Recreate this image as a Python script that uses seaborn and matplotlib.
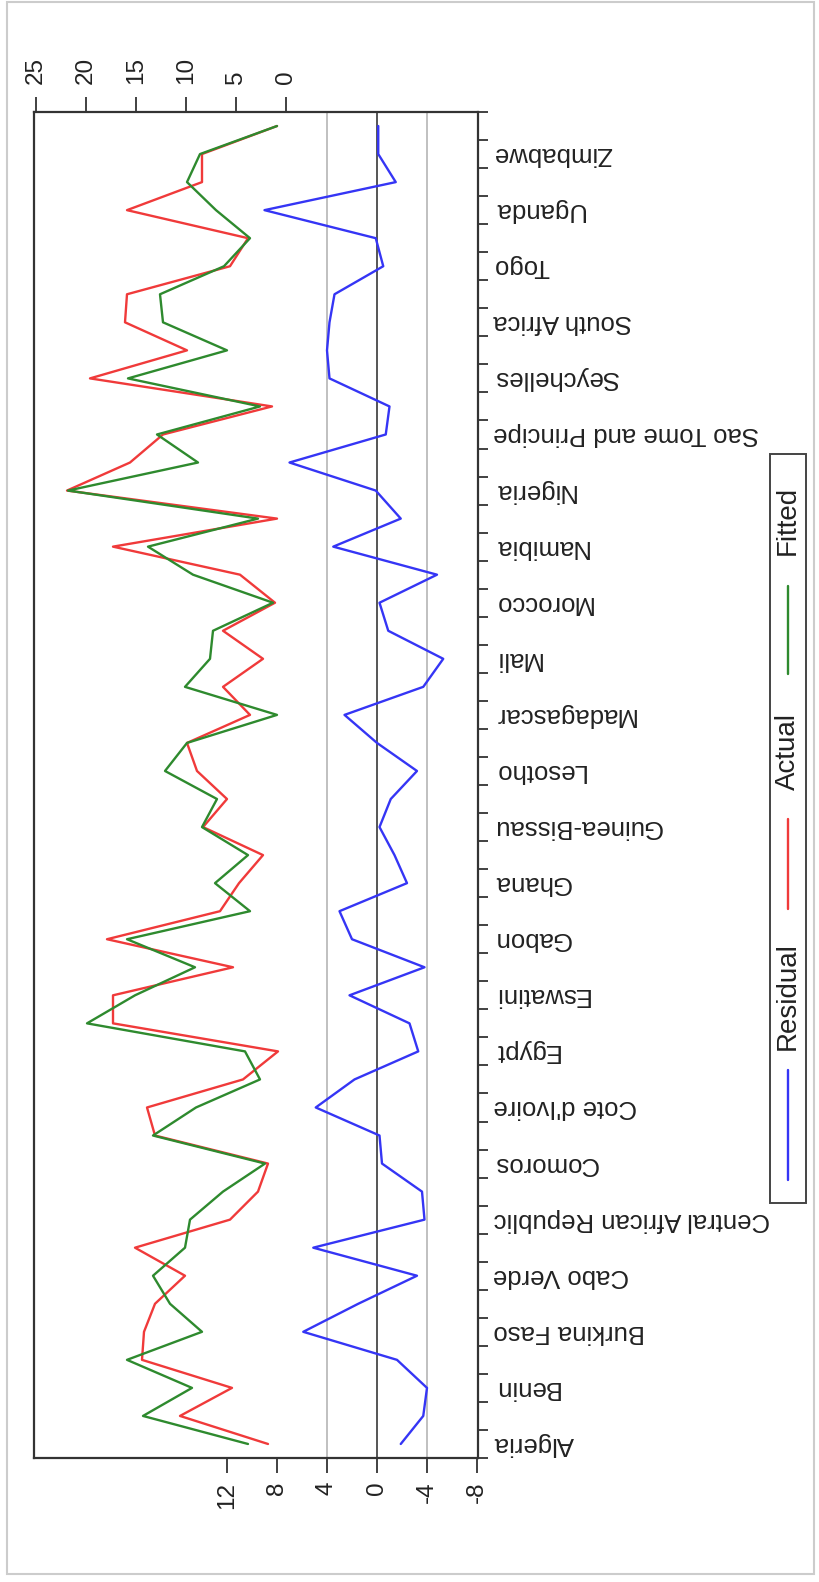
import matplotlib
matplotlib.use("Agg")
import matplotlib.pyplot as plt
import seaborn as sns
import pandas as pd
from matplotlib.lines import Line2D
from matplotlib.patches import Rectangle

# cross-section labels (one label every second observation)
countries = ["Algeria", "Benin", "Burkina Faso", "Cabo Verde", "Central African Republic",
             "Comoros", "Cote d'Ivoire", "Egypt", "Eswatini", "Gabon", "Ghana",
             "Guinea-Bissau", "Lesotho", "Madagascar", "Mali", "Morocco", "Namibia",
             "Nigeria", "Sao Tome and Principe", "Seychelles", "South Africa", "Togo",
             "Uganda", "Zimbabwe"]

actual = [1.8, 10.6, 5.4, 14.4, 14.2, 13.1, 10.1, 15.1, 5.6, 2.8, 1.8, 13.1,
          13.9, 4.3, 0.8, 17.3, 17.3, 5.3, 17.9, 6.6, 4.7, 2.3, 8.3, 5.9,
          8.9, 9.9, 3.6, 6.3, 2.3, 6.3, 1.1, 4.6, 17.3, 0.9, 21.9, 15.6,
          12.3, 1.4, 19.6, 9.9, 16.1, 15.9, 5.6, 3.8, 15.9, 8.4, 8.4, 0.9]

fitted = [3.8, 14.3, 9.4, 15.9, 8.4, 11.6, 13.3, 10.1, 9.6, 6.3, 2.1, 13.3,
          9.0, 2.6, 4.1, 19.9, 15.1, 9.1, 15.9, 3.6, 7.1, 3.8, 8.4, 6.9,
          12.1, 9.9, 0.9, 10.1, 7.6, 7.3, 1.3, 9.3, 13.8, 2.8, 21.8, 8.8,
          12.9, 2.6, 15.8, 5.9, 12.3, 12.6, 6.2, 3.6, 7.0, 9.9, 8.6, 0.9]

residual = [-1.9, -3.7, -4.0, -1.6, 5.9, 1.5, -3.2, 5.1, -3.8, -3.6, -0.4, -0.2,
            4.9, 1.8, -3.3, -2.6, 2.2, -3.8, 2.0, 3.0, -2.4, -1.4, -0.2, -1.1,
            -3.2, 0.0, 2.6, -3.7, -5.3, -0.9, -0.2, -4.8, 3.5, -1.9, 0.1, 7.0,
            -0.7, -1.0, 3.8, 4.0, 3.8, 3.4, -0.5, 0.1, 9.0, -1.5, -0.1, -0.1]

resid_ticks = [12, 8, 4, 0, -4, -8]
level_ticks = [0, 5, 10, 15, 20, 25]

obs = list(range(len(actual)))
df = pd.DataFrame({"obs": obs, "Residual": residual, "Actual": actual, "Fitted": fitted})

sns.set_theme(style="white")
plt.rcParams['font.family'] = ['Liberation Sans', 'DejaVu Sans']

W, H = 819, 1582
fig = plt.figure(figsize=(W / 100, H / 100), dpi=100)


def fx(x):
    return x / W


def fy(y):
    return 1 - y / H


left, right, top, bottom = 34, 478, 112, 1458
ax = fig.add_axes([fx(left), fy(bottom), (right - left) / W, (bottom - top) / H])
ax2 = ax.twiny()

# reference lines of the residual axis
ax.axvline(4, color="#b5b5b5", lw=1.2, zorder=0)
ax.axvline(-4, color="#b5b5b5", lw=1.2, zorder=0)
ax.axvline(0, color="#555555", lw=1.4, zorder=0)

blue, red, green = "#3535f5", "#f03a3a", "#2e8a2e"
sns.lineplot(data=df, x="Residual", y="obs", orient="y", sort=False, errorbar=None,
             color=blue, lw=1.7, ax=ax)
sns.lineplot(data=df, x="Actual", y="obs", orient="y", sort=False, errorbar=None,
             color=red, lw=1.7, ax=ax2)
sns.lineplot(data=df, x="Fitted", y="obs", orient="y", sort=False, errorbar=None,
             color=green, lw=1.7, ax=ax2)

ax.set_xlim(27.44, -8.08)
ax2.set_xlim(25.2, -19.2)
ax.set_ylim(-0.5, len(obs) - 0.5)
for a in (ax, ax2):
    a.set_xlabel("")
    a.set_ylabel("")

for s in ax.spines.values():
    s.set_color("#333333")
    s.set_linewidth(1.6)
for s in ax2.spines.values():
    s.set_visible(False)

# residual scale (bottom of picture)
ax.set_xticks(resid_ticks)
ax.set_xticklabels([str(t) for t in resid_ticks])
ax.tick_params(axis="x", bottom=True, top=False, direction="out", length=11, width=1.3,
               color="#333333", pad=6, labelsize=17.5, labelcolor="#222222", labelrotation=90)

# actual / fitted scale (top of picture)
ax2.set_xticks(level_ticks)
ax2.set_xticklabels([str(t) for t in level_ticks])
ax2.tick_params(axis="x", top=True, bottom=False, labeltop=True, labelbottom=False,
                direction="out", length=11, width=1.3, color="#333333", pad=9,
                labelsize=17.5, labelcolor="#222222", labelrotation=90)

# observation axis (right side of picture)
ax.yaxis.tick_right()
ax.set_yticks([i - 0.5 for i in range(len(obs) + 1)])
ax.set_yticklabels([])
ax.set_yticks(obs[::2], minor=True)
ax.set_yticklabels(countries, minor=True)
ax.tick_params(axis="y", which="major", right=True, left=False, direction="out",
               length=7, width=1.3, color="#333333")
ax.tick_params(axis="y", which="minor", right=True, left=False, labelright=True,
               labelleft=False, length=0, pad=11, labelsize=18.5, labelcolor="#222222")
for lab in ax.get_yticklabels(minor=True):
    lab.set_rotation(180)
    lab.set_va("center")

# legend box, drawn sideways like the rest of the picture
fig.patches.append(Rectangle((fx(770), fy(1203)), (806 - 770) / W, (1203 - 454) / H,
                             transform=fig.transFigure, fill=False,
                             edgecolor="#444444", lw=1.4))
lx = 788
entries = [(blue, 1070, 1180, "Residual", 996),
           (red, 819, 909, "Actual", 751),
           (green, 586, 674, "Fitted", 520)]
for col, y0, y1, name, ty in entries:
    fig.lines.append(Line2D([fx(lx), fx(lx)], [fy(y0), fy(y1)], transform=fig.transFigure,
                            color=col, lw=1.7))
    fig.text(fx(lx), fy(ty), name, rotation=90, ha="center", va="center",
             fontsize=20, color="#222222")

# light outer frame of the screenshot
fig.patches.append(Rectangle((fx(7), fy(1574)), (814 - 7) / W, (1574 - 2) / H,
                             transform=fig.transFigure, fill=False,
                             edgecolor="#cccccc", lw=1.5))

fig.savefig("out.png", dpi=100, facecolor="white")
